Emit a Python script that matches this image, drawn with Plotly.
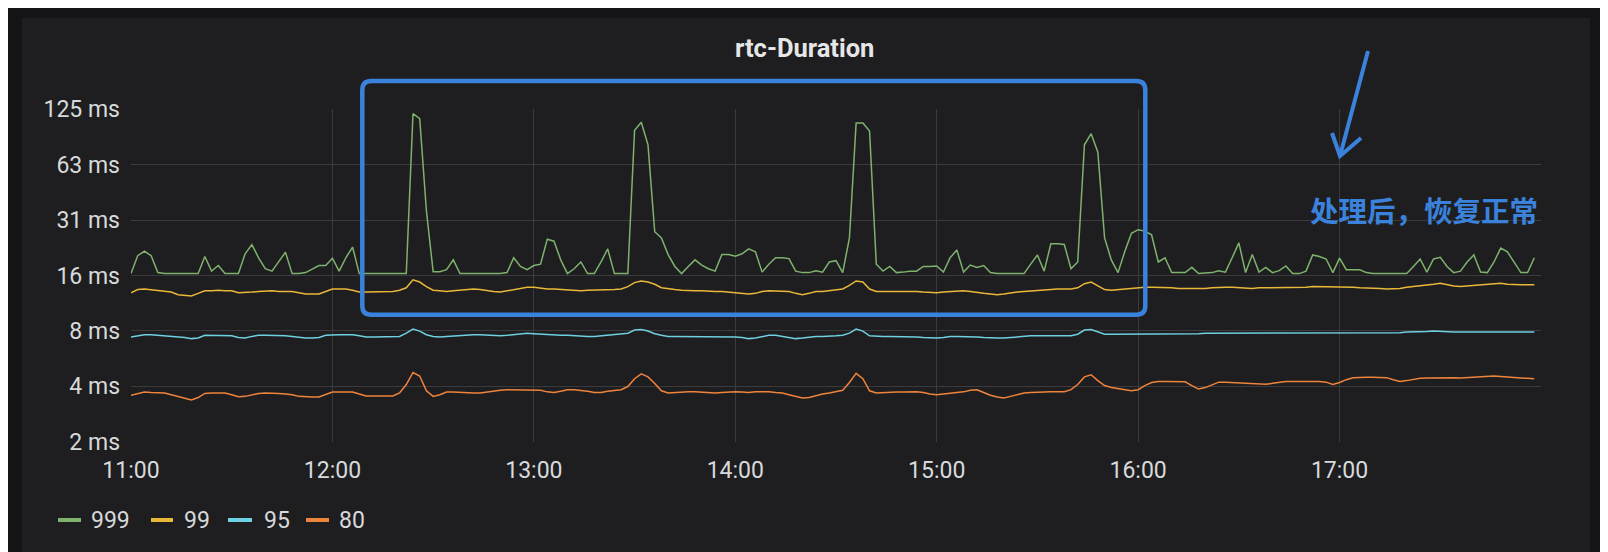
import math
import plotly.graph_objects as go
import pandas as pd

# ---------------- data ----------------
series_names = ["999", "99", "95", "80"]
series_colors = ["#7EB26D", "#EAB839", "#6ED0E0", "#EF843C"]

start_time = "2019-01-01 11:00"
end_time = "2019-01-01 18:00"
step = "2min"

p999 = [
    16, 20, 21.2, 20, 16.2, 16, 16, 16, 16, 16,
    16, 19.8, 16.5, 17.7, 16, 16, 16, 20.5, 23, 19.5,
    17, 16.5, 18.5, 20.9, 16, 16, 16.2, 17, 17.7, 17.7,
    19.4, 16.5, 19.5, 22.3, 16, 16, 16, 16, 16, 16,
    16, 16, 118, 111, 35, 16.4, 16.4, 16.8, 19, 16,
    16, 16, 16, 16, 16, 16, 16.2, 19.5, 17.5, 16.8,
    17.7, 18, 24.6, 24, 19, 16, 17, 18.5, 16, 16,
    18.5, 21.8, 16, 16, 16, 96, 106, 80, 27, 25,
    20.3, 17.5, 16, 17.5, 19, 17.8, 17, 16.5, 20.3, 20.3,
    19.9, 20.5, 21.8, 21, 16.3, 18, 19.5, 19.5, 19.3, 16.5,
    16.2, 16.2, 16.6, 16.3, 18.5, 18.8, 16.2, 25, 105, 105,
    95, 18, 16.5, 17.5, 16.2, 16.3, 16.5, 16.5, 17.5, 17.5,
    17.6, 16.3, 19.5, 21.5, 16.3, 17.8, 17.3, 17.7, 16.2, 16,
    16, 16, 16, 16, 18, 20.2, 16.5, 23.2, 23.2, 23,
    17, 18.5, 80, 92, 73, 25, 19, 16.2, 21, 26.5,
    27.7, 27.2, 26, 18.5, 19.5, 16.2, 16.2, 16.2, 17.3, 16,
    16.1, 16.2, 16.6, 16.3, 19.5, 23.5, 16.2, 20.3, 16.3, 17.3,
    16.2, 16.6, 17.6, 16, 16, 16.5, 20.2, 19.8, 19.2, 16.2,
    19.4, 16.8, 16.8, 16.8, 16.2, 16, 16, 16, 16, 16,
    16, 17.5, 19.2, 16.3, 19.2, 19.6, 17.5, 16.2, 16.5, 18.5,
    20.2, 16.3, 16.2, 18.5, 22, 21, 18.5, 16.2, 16.2, 19.5,
]

p99 = [
    12.6, 13.1, 13.2, 13.1, 13.0, 12.9, 12.7, 12.3, 12.2, 12.1,
    12.5, 12.9, 12.9, 13.0, 12.9, 12.9, 12.6, 12.6, 12.7, 12.8,
    12.9, 12.9, 12.8, 12.8, 12.8, 12.6, 12.4, 12.4, 12.4, 12.8,
    13.2, 13.2, 13.2, 13.0, 12.7, 12.7, 12.7, 12.8, 12.8, 12.8,
    13.0, 13.4, 14.8, 14.4, 13.6, 13.0, 12.9, 12.8, 12.9, 13.0,
    13.1, 13.2, 13.1, 12.9, 12.8, 12.7, 12.9, 13.2, 13.4, 13.5,
    13.5, 13.3, 13.2, 13.2, 13.1, 13.0, 12.9, 12.9, 13.0, 13.0,
    13.0, 13.0, 13.1, 13.2, 13.6, 14.3, 14.6, 14.4, 14.0, 13.4,
    13.2, 13.1, 13.0, 12.9, 12.9, 12.9, 12.8, 12.8, 12.8, 12.7,
    12.7, 12.6, 12.4, 12.5, 12.8, 12.9, 12.9, 12.9, 12.8, 12.5,
    12.3, 12.5, 12.8, 12.8, 12.9, 13.1, 13.2, 13.8, 14.6, 14.4,
    13.2, 12.8, 12.8, 12.9, 12.9, 12.9, 12.8, 12.8, 12.7, 12.6,
    12.6, 12.7, 12.8, 12.9, 12.9, 12.8, 12.6, 12.5, 12.4, 12.3,
    12.4, 12.6, 12.7, 12.8, 12.9, 13.0, 13.1, 13.2, 13.2, 13.2,
    13.2, 13.4, 14.1, 14.4, 13.8, 13.1, 13.0, 13.1, 13.2, 13.4,
    13.5, 13.5, 13.5, 13.5, 13.5, 13.4, 13.3, 13.3, 13.2, 13.2,
    13.3, 13.4, 13.5, 13.5, 13.5, 13.4, 13.4, 13.3, 13.4, 13.4,
    13.4, 13.5, 13.5, 13.5, 13.5, 13.5, 13.6, 13.6, 13.6, 13.6,
    13.6, 13.5, 13.5, 13.4, 13.4, 13.4, 13.3, 13.2, 13.2, 13.3,
    13.5, 13.6, 13.7, 13.8, 14.0, 14.2, 13.9, 13.7, 13.6, 13.7,
    13.8, 13.9, 14.0, 14.1, 14.2, 14.0, 13.9, 13.9, 13.9, 13.9,
]

p95 = [
    7.25, 7.35, 7.45, 7.45, 7.4, 7.35, 7.35, 7.3, 7.2, 7.1,
    7.15, 7.4, 7.4, 7.4, 7.35, 7.35, 7.2, 7.15, 7.3, 7.4,
    7.4, 7.4, 7.35, 7.35, 7.3, 7.2, 7.15, 7.15, 7.2, 7.4,
    7.45, 7.45, 7.45, 7.45, 7.35, 7.25, 7.25, 7.25, 7.25, 7.25,
    7.3, 7.6, 8.0, 7.8, 7.45, 7.3, 7.25, 7.3, 7.35, 7.4,
    7.4, 7.45, 7.45, 7.4, 7.35, 7.35, 7.4, 7.45, 7.5, 7.6,
    7.55, 7.5, 7.45, 7.45, 7.4, 7.4, 7.35, 7.35, 7.3, 7.3,
    7.35, 7.4, 7.45, 7.5, 7.6, 7.9, 7.95, 7.8, 7.55, 7.4,
    7.3, 7.3, 7.3, 7.3, 7.3, 7.3, 7.3, 7.3, 7.3, 7.3,
    7.25, 7.2, 7.1, 7.15, 7.3, 7.4, 7.4, 7.3, 7.2, 7.1,
    7.15, 7.25, 7.3, 7.3, 7.3, 7.35, 7.4, 7.6, 8.0, 7.8,
    7.35, 7.3, 7.3, 7.3, 7.3, 7.3, 7.3, 7.25, 7.2, 7.15,
    7.15, 7.2, 7.3, 7.3, 7.3, 7.3, 7.25, 7.2, 7.15, 7.15,
    7.15, 7.2, 7.3, 7.35, 7.35, 7.35, 7.35, 7.35, 7.35, 7.35,
    7.35, 7.5, 7.9, 7.95, 7.7, 7.5, 7.5, 7.5, 7.5, 7.5,
    7.5, 7.5, 7.5, 7.5, 7.5, 7.5, 7.5, 7.5, 7.5, 7.55,
    7.6, 7.6, 7.65, 7.65, 7.6, 7.6, 7.6, 7.6, 7.6, 7.6,
    7.6, 7.6, 7.65, 7.65, 7.6, 7.6, 7.65, 7.65, 7.65, 7.65,
    7.6, 7.6, 7.6, 7.6, 7.65, 7.65, 7.65, 7.6, 7.6, 7.65,
    7.7, 7.7, 7.75, 7.75, 7.8, 7.75, 7.7, 7.7, 7.7, 7.7,
    7.7, 7.7, 7.7, 7.7, 7.7, 7.7, 7.7, 7.7, 7.7, 7.7,
]

p80 = [
    3.5, 3.58, 3.64, 3.62, 3.6, 3.6, 3.52, 3.45, 3.38, 3.3,
    3.4, 3.58, 3.6, 3.6, 3.6, 3.52, 3.43, 3.45, 3.52, 3.58,
    3.6, 3.6, 3.58, 3.55, 3.52, 3.45, 3.42, 3.42, 3.42, 3.52,
    3.64, 3.64, 3.64, 3.64, 3.55, 3.47, 3.47, 3.47, 3.47, 3.47,
    3.6, 4.0, 4.65, 4.45, 3.7, 3.45, 3.52, 3.64, 3.64, 3.62,
    3.6, 3.6, 3.6, 3.65, 3.68, 3.72, 3.75, 3.75, 3.75, 3.75,
    3.75, 3.72, 3.65, 3.62, 3.68, 3.75, 3.75, 3.72, 3.68, 3.62,
    3.62, 3.68, 3.72, 3.75, 3.9, 4.3, 4.57, 4.4, 4.05, 3.7,
    3.6, 3.62, 3.66, 3.66, 3.66, 3.64, 3.62, 3.6, 3.62, 3.64,
    3.65, 3.64, 3.62, 3.65, 3.67, 3.66, 3.62, 3.6, 3.52, 3.44,
    3.38, 3.4, 3.48, 3.55, 3.6, 3.66, 3.72, 4.1, 4.6, 4.3,
    3.7, 3.6, 3.62, 3.64, 3.64, 3.64, 3.65, 3.66, 3.62, 3.55,
    3.52, 3.55, 3.58, 3.6, 3.65, 3.72, 3.75, 3.62, 3.5, 3.42,
    3.38, 3.45, 3.52, 3.6, 3.62, 3.64, 3.66, 3.66, 3.66, 3.66,
    3.75, 4.0, 4.4, 4.52, 4.2, 3.95, 3.85, 3.8, 3.78, 3.7,
    3.75, 3.95, 4.1, 4.16, 4.16, 4.16, 4.16, 4.14, 3.95, 3.78,
    3.85, 4.0, 4.12, 4.12, 4.1, 4.1, 4.08, 4.05, 4.03, 4.02,
    4.06, 4.12, 4.16, 4.16, 4.16, 4.16, 4.16, 4.15, 4.12, 4.0,
    4.1, 4.25, 4.35, 4.38, 4.38, 4.38, 4.38, 4.36, 4.25, 4.16,
    4.2, 4.28, 4.32, 4.34, 4.35, 4.36, 4.38, 4.36, 4.34, 4.36,
    4.4, 4.42, 4.44, 4.45, 4.42, 4.38, 4.36, 4.34, 4.32, 4.3,
]

series_values = [p999, p99, p95, p80]

y_tick_vals = [125 / 64, 125 / 32, 125 / 16, 125 / 8, 125 / 4, 125 / 2, 125]
y_tick_text = ["2 ms", "4 ms", "8 ms", "16 ms", "31 ms", "63 ms", "125 ms"]
x_tick_vals = ["2019-01-01 11:00", "2019-01-01 12:00", "2019-01-01 13:00",
               "2019-01-01 14:00", "2019-01-01 15:00", "2019-01-01 16:00",
               "2019-01-01 17:00"]
x_tick_text = ["11:00", "12:00", "13:00", "14:00", "15:00", "16:00", "17:00"]

title_text = "rtc-Duration"
note_text = "处理后，恢复正常"

# ---------------- layout geometry ----------------
W, H = 1608, 552
L, R, T, B = 123, 75, 101, 118
PW, PH = W - L - R, H - T - B


def px(x):
    return (x - L) / PW


def py(y):
    return (H - B - y) / PH


OUTER_BG = "#141416"
PANEL_BG = "#1e1e20"
GRID = "#3b3b3e"
TEXT = "#d8d9da"
BLUE = "#3a82dc"
TICK_SIZE = 23

fig = go.Figure()
for name, color, vals in zip(series_names, series_colors, series_values):
    times = pd.date_range(start_time, periods=len(vals), freq=step)
    fig.add_trace(go.Scatter(x=times, y=vals, mode="lines", name=name,
                             line=dict(color=color, width=1.5),
                             hoverinfo="skip", showlegend=False))

eps = 0.0006
fig.update_layout(
    width=W, height=H,
    margin=dict(l=L, r=R, t=T, b=B, pad=0),
    paper_bgcolor=OUTER_BG,
    plot_bgcolor=PANEL_BG,
    font=dict(family="Roboto", color=TEXT, size=TICK_SIZE),
    xaxis=dict(type="date", range=[start_time, end_time],
               tickvals=x_tick_vals, ticktext=x_tick_text,
               showgrid=True, gridcolor=GRID, gridwidth=1,
               zeroline=False, showline=False, ticks="",
               ticklabelstandoff=12, automargin=False,
               tickfont=dict(size=TICK_SIZE, color=TEXT), fixedrange=True),
    yaxis=dict(type="log",
               range=[math.log10(y_tick_vals[0]) - eps, math.log10(y_tick_vals[-1]) + eps],
               tickvals=y_tick_vals, ticktext=y_tick_text,
               showgrid=True, gridcolor=GRID, gridwidth=1,
               zeroline=False, showline=False, ticks="",
               ticklabelstandoff=10, automargin=False,
               tickfont=dict(size=TICK_SIZE, color=TEXT), fixedrange=True),
    hovermode=False,
)

shapes = []
# panel background
shapes.append(dict(type="rect", xref="paper", yref="paper",
                   x0=px(14), x1=px(1582), y0=py(545), y1=py(10),
                   fillcolor=PANEL_BG, line=dict(width=0), layer="below"))

# rounded highlight box
bx0, bx1, by0, by1 = px(354.3), px(1137.3), py(306.7), py(73)
rx, ry = 9 / PW, 9 / PH
box_path = (f"M {bx0+rx},{by1} L {bx1-rx},{by1} Q {bx1},{by1} {bx1},{by1-ry} "
            f"L {bx1},{by0+ry} Q {bx1},{by0} {bx1-rx},{by0} "
            f"L {bx0+rx},{by0} Q {bx0},{by0} {bx0},{by0+ry} "
            f"L {bx0},{by1-ry} Q {bx0},{by1} {bx0+rx},{by1} Z")
shapes.append(dict(type="path", xref="paper", yref="paper", path=box_path,
                   line=dict(color=BLUE, width=4.5), layer="above"))

# hand-drawn arrow
shaft = f"M {px(1360)},{py(43)} Q {px(1347)},{py(92)} {px(1332)},{py(148)}"
head = f"M {px(1324)},{py(125)} L {px(1332)},{py(148)} L {px(1353)},{py(130)}"
for p in (shaft, head):
    shapes.append(dict(type="path", xref="paper", yref="paper", path=p,
                       line=dict(color=BLUE, width=4), layer="above"))

# manual legend markers
legend_marker_x = [(50, 73), (143, 165), (220, 244), (298, 321)]
legend_text_x = [81, 174, 254, 329]
legend_y = 512
annotations = []
for (m0, m1), tx, name, color in zip(legend_marker_x, legend_text_x, series_names, series_colors):
    shapes.append(dict(type="line", xref="paper", yref="paper",
                       x0=px(m0), x1=px(m1), y0=py(legend_y), y1=py(legend_y),
                       line=dict(color=color, width=4)))
    annotations.append(dict(xref="paper", yref="paper", x=px(tx), y=py(legend_y),
                            text=name, showarrow=False, xanchor="left", yanchor="middle",
                            font=dict(size=TICK_SIZE, color=TEXT, family="Roboto")))

annotations.append(dict(xref="paper", yref="paper", x=px(796), y=py(40),
                        text=title_text, showarrow=False, xanchor="center", yanchor="middle",
                        font=dict(size=25.5, color="#e6e6e7", family="Roboto", weight="bold")))
annotations.append(dict(xref="paper", yref="paper", x=px(1416), y=py(201.5),
                        text=note_text, showarrow=False, xanchor="center", yanchor="middle",
                        font=dict(size=28.5, color=BLUE, family="Noto Sans CJK SC", weight="bold")))

fig.update_layout(shapes=shapes, annotations=annotations)

fig.write_html("out.html", config={"displayModeBar": False})
